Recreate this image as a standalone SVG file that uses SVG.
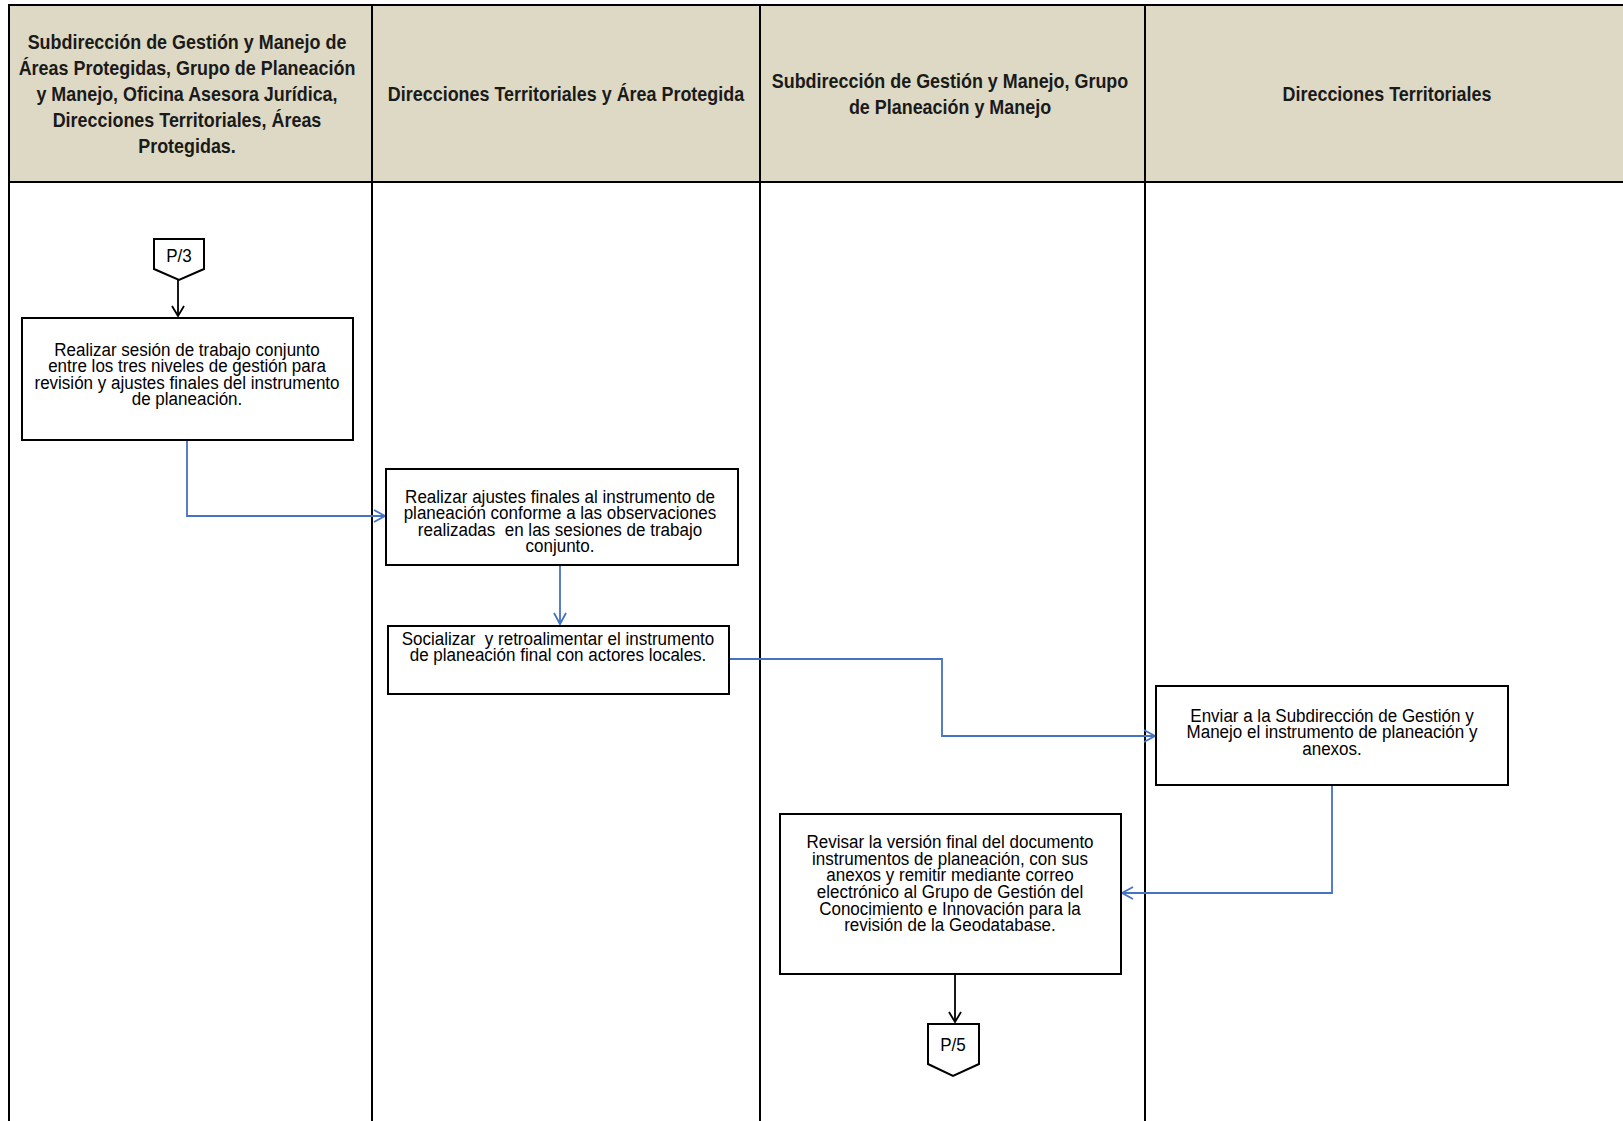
<svg xmlns="http://www.w3.org/2000/svg" width="1623" height="1121" viewBox="0 0 1623 1121">
<style>
.hdr{fill:#DDD9C4;stroke:none}
.lane{stroke:#000;stroke-width:2;fill:none}
.box{fill:#fff;stroke:#000;stroke-width:2}
.ht{font-family:"Liberation Sans",Arial,sans-serif;font-weight:bold;font-size:19.5px;fill:#1a1a1a;text-anchor:middle}
.bt{font-family:"Liberation Sans",Arial,sans-serif;font-size:19px;fill:#000;text-anchor:middle;white-space:pre}
.blue{stroke:#4472C4;stroke-width:1.8;fill:none}
.blk{stroke:#000;stroke-width:1.8;fill:none}
</style>
<defs>
<marker id="ob" markerWidth="14" markerHeight="14" refX="12" refY="7" orient="auto" markerUnits="userSpaceOnUse">
<path d="M1,1 L12,7 L1,13" fill="none" stroke="#4472C4" stroke-width="1.8"/>
</marker>
<marker id="ab" markerWidth="14" markerHeight="14" refX="12" refY="7" orient="auto" markerUnits="userSpaceOnUse">
<path d="M2,1 L12,7 L2,13" fill="none" stroke="#000" stroke-width="1.8"/>
</marker>
</defs>
<rect width="1623" height="1121" fill="#fff"/>
<g id="lanes">
<rect class="hdr" x="9" y="5" width="1614" height="177"/>
<path class="lane" d="M9,1121 V5 H1623 M9,182 H1623 M372,5 V1121 M760,5 V1121 M1145,5 V1121"/>
<g transform="translate(187,0) scale(0.92,1)">
<text class="ht" x="0" y="49">Subdirección de Gestión y Manejo de</text>
<text class="ht" x="0" y="75">Áreas Protegidas, Grupo de Planeación</text>
<text class="ht" x="0" y="101">y Manejo, Oficina Asesora Jurídica,</text>
<text class="ht" x="0" y="127">Direcciones Territoriales, Áreas</text>
<text class="ht" x="0" y="153">Protegidas.</text>
</g>
<g transform="translate(566,0) scale(0.92,1)">
<text class="ht" x="0" y="101">Direcciones Territoriales y Área Protegida</text>
</g>
<g transform="translate(950,0) scale(0.92,1)">
<text class="ht" x="0" y="88">Subdirección de Gestión y Manejo, Grupo</text>
<text class="ht" x="0" y="114">de Planeación y Manejo</text>
</g>
<g transform="translate(1387,0) scale(0.92,1)">
<text class="ht" x="0" y="101">Direcciones Territoriales</text>
</g>
</g>
<g id="connectors">
<path class="blk" d="M178,280 V316" marker-end="url(#ab)"/>
<path class="blue" d="M187,441 V516 H385" marker-end="url(#ob)"/>
<path class="blue" d="M560,565 V624" marker-end="url(#ob)"/>
<path class="blue" d="M729,659 H942 V736 H1155" marker-end="url(#ob)"/>
<path class="blue" d="M1332,785 V893 H1122" marker-end="url(#ob)"/>
<path class="blk" d="M955,975 V1022" marker-end="url(#ab)"/>
</g>
<g id="p3">
<path class="box" d="M154,239 H204 V269 L179,280 L154,269 Z"/>
<g transform="translate(179,0) scale(0.895,1)"><text class="bt" x="0" y="262">P/3</text></g>
</g>
<g id="n1">
<rect class="box" x="22" y="318" width="331" height="122"/>
<g transform="translate(187,0) scale(0.895,1)">
<text class="bt" x="0" y="356">Realizar sesión de trabajo conjunto</text>
<text class="bt" x="0" y="372.5">entre los tres niveles de gestión para</text>
<text class="bt" x="0" y="389">revisión y ajustes finales del instrumento</text>
<text class="bt" x="0" y="405.5">de planeación.</text>
</g>
</g>
<g id="n2">
<rect class="box" x="386" y="469" width="352" height="96"/>
<g transform="translate(560,0) scale(0.895,1)">
<text class="bt" x="0" y="503">Realizar ajustes finales al instrumento de</text>
<text class="bt" x="0" y="519.5">planeación conforme a las observaciones</text>
<text class="bt" x="0" y="536">realizadas  en las sesiones de trabajo</text>
<text class="bt" x="0" y="552">conjunto.</text>
</g>
</g>
<g id="n3">
<rect class="box" x="388" y="626" width="341" height="68"/>
<g transform="translate(558,0) scale(0.895,1)">
<text class="bt" x="0" y="645">Socializar  y retroalimentar el instrumento</text>
<text class="bt" x="0" y="661.5">de planeación final con actores locales.</text>
</g>
</g>
<g id="n4">
<rect class="box" x="1156" y="686" width="352" height="99"/>
<g transform="translate(1332,0) scale(0.895,1)">
<text class="bt" x="0" y="722">Enviar a la Subdirección de Gestión y</text>
<text class="bt" x="0" y="738.5">Manejo el instrumento de planeación y</text>
<text class="bt" x="0" y="755">anexos.</text>
</g>
</g>
<g id="n5">
<rect class="box" x="780" y="814" width="341" height="160"/>
<g transform="translate(950,0) scale(0.895,1)">
<text class="bt" x="0" y="848">Revisar la versión final del documento</text>
<text class="bt" x="0" y="864.7">instrumentos de planeación, con sus</text>
<text class="bt" x="0" y="881.4">anexos y remitir mediante correo</text>
<text class="bt" x="0" y="898.1">electrónico al Grupo de Gestión del</text>
<text class="bt" x="0" y="914.8">Conocimiento e Innovación para la</text>
<text class="bt" x="0" y="931.5">revisión de la Geodatabase.</text>
</g>
</g>
<g id="p5">
<path class="box" d="M928,1024 H979 V1064 L953,1076 L928,1064 Z"/>
<g transform="translate(953,0) scale(0.895,1)"><text class="bt" x="0" y="1051">P/5</text></g>
</g>
</svg>
